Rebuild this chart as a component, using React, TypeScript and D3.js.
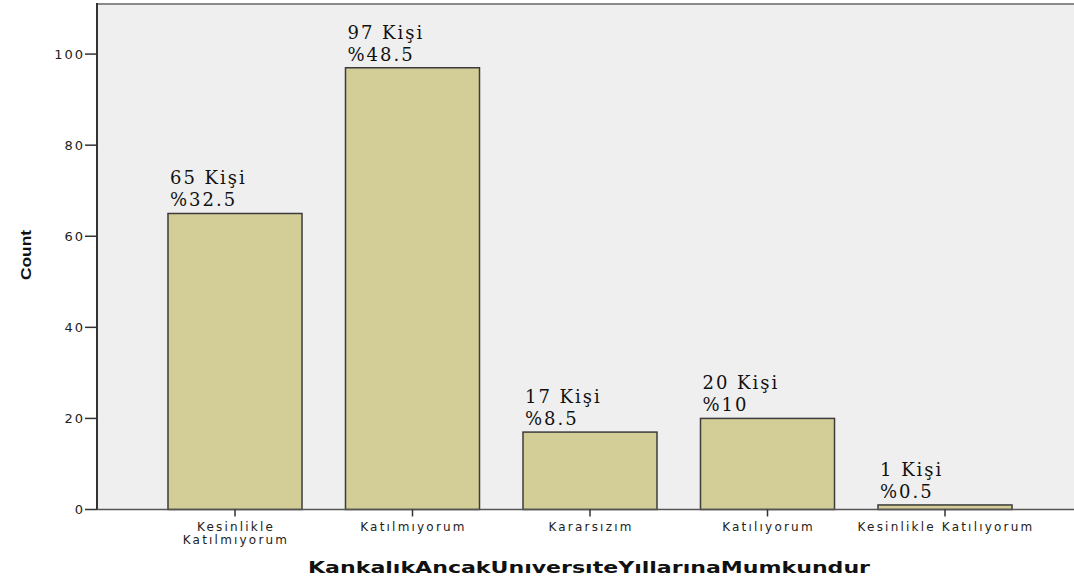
import React from "react";
import * as d3 from "d3";

const categories: string[][] = [
  ["Kesinlikle", "Katılmıyorum"],
  ["Katılmıyorum"],
  ["Kararsızım"],
  ["Katılıyorum"],
  ["Kesinlikle Katılıyorum"],
];
const counts: number[] = [65, 97, 17, 20, 1];
const total = 200;
const yTicks: number[] = [0, 20, 40, 60, 80, 100];
const yTitle = "Count";
const xTitle = "KankalıkAncakUnıversıteYıllarınaMumkundur";

const W = 1074;
const H = 578;
const plotLeft = 97;
const plotRight = 1074;
const plotTop = 4;
const plotBottom = 509.5;

export default function App() {
  const keys = categories.map((c) => c.join(" "));
  const x = d3
    .scaleBand<string>()
    .domain(keys)
    .range([146.25, 1033.75])
    .paddingInner(0.245)
    .paddingOuter(0.1225);
  const y = d3.scaleLinear().domain([0, 111]).range([plotBottom, plotTop]);

  const sans = "'DejaVu Sans', Verdana, sans-serif";
  const serif = "'DejaVu Serif', 'Liberation Serif', serif";

  return (
    <svg
      width={W}
      height={H}
      style={{ position: "absolute", left: 0, top: 0, background: "#fff" }}
    >
      <rect
        x={plotLeft}
        y={plotTop}
        width={plotRight - plotLeft}
        height={plotBottom - plotTop}
        fill="#efefef"
      />
      <line x1={plotLeft} x2={plotRight} y1={plotTop} y2={plotTop} stroke="#8a8a8a" strokeWidth={2} />

      {counts.map((v, i) => {
        const bx = x(keys[i])!;
        const by = y(v);
        return (
          <g key={i}>
            <rect
              x={bx}
              y={by}
              width={x.bandwidth()}
              height={plotBottom - by}
              fill="#d3ce97"
              stroke="#3c3c3c"
              strokeWidth={1.5}
            />
            <text
              x={bx + 2}
              y={by - 29}
              fontFamily={serif}
              fontSize={18}
              letterSpacing={2}
              fill="#111"
            >
              {`${v} Kişi`}
            </text>
            <text
              x={bx + 2}
              y={by - 7}
              fontFamily={serif}
              fontSize={18}
              letterSpacing={2}
              fill="#111"
            >
              {`%${(v / total) * 100}`}
            </text>
          </g>
        );
      })}

      {/* axes */}
      <line x1={plotLeft} x2={plotLeft} y1={plotTop - 1} y2={plotBottom} stroke="#333" strokeWidth={2} />
      <line x1={plotLeft} x2={plotRight} y1={plotBottom} y2={plotBottom} stroke="#555" strokeWidth={1.5} />

      {yTicks.map((t) => (
        <g key={t}>
          <line x1={plotLeft - 12} x2={plotLeft} y1={y(t)} y2={y(t)} stroke="#333" strokeWidth={1.5} />
          <text
            x={plotLeft - 12}
            y={y(t)}
            dy="0.36em"
            textAnchor="end"
            fontFamily={sans}
            fontSize={13}
            letterSpacing={2}
            fill="#222"
          >
            {t}
          </text>
        </g>
      ))}

      {categories.map((lines, i) => {
        const cx = x(keys[i])! + x.bandwidth() / 2;
        return (
          <g key={i}>
            <line x1={cx} x2={cx} y1={plotBottom} y2={plotBottom + 7} stroke="#333" strokeWidth={1.5} />
            {lines.map((ln, j) => (
              <text
                key={j}
                x={cx + 1}
                y={530.5 + j * 13}
                textAnchor="middle"
                fontFamily={sans}
                fontSize={12}
                letterSpacing={2.2}
                fill="#222"
              >
                {ln}
              </text>
            ))}
          </g>
        );
      })}

      <text
        x={589}
        y={573}
        textAnchor="middle"
        fontFamily={sans}
        fontWeight="bold"
        fontSize={16.5}
        textLength={562}
        lengthAdjust="spacingAndGlyphs"
        fill="#111"
      >
        {xTitle}
      </text>
      <text
        transform={`translate(31,255) rotate(-90)`}
        textAnchor="middle"
        fontFamily="'Liberation Sans Narrow', 'Arial Narrow', 'Liberation Sans', sans-serif"
        fontWeight="bold"
        fontSize={15}
        textLength={50}
        lengthAdjust="spacingAndGlyphs"
        fill="#111"
      >
        {yTitle}
      </text>
    </svg>
  );
}
